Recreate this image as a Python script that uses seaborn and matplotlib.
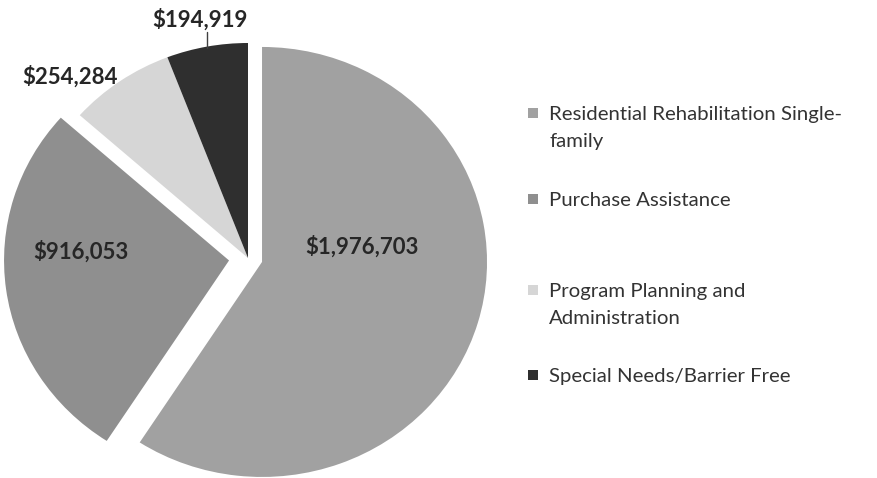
import matplotlib
matplotlib.use("Agg")
import matplotlib.pyplot as plt
import seaborn as sns
from matplotlib.patches import Rectangle

sns.set_theme(style="white")
plt.rcParams['font.family'] = ['Lato', 'DejaVu Sans']

# program categories and amounts
programs = ['Residential Rehabilitation Single-\nfamily',
            'Purchase Assistance',
            'Program Planning and\nAdministration',
            'Special Needs/Barrier Free']
amounts = [1976703, 916053, 254284, 194919]
amount_labels = ['$1,976,703', '$916,053', '$254,284', '$194,919']
colors = ['#a1a1a1', '#8f8f8f', '#d6d6d6', '#2f2f2f']
explode = [0.065, 0.085, 0.0, 0.0]

fig = plt.figure(figsize=(8.77, 4.78), dpi=100)
W, H = 877, 478
# pie centre in pixels, and radii (slightly stretched horizontally)
cx, cy, rx, ry = 248, 258, 225, 215
ax = fig.add_axes([(cx - 1.1 * rx) / W, (H - cy - 1.1 * ry) / H,
                   2.2 * rx / W, 2.2 * ry / H])

wedges, _ = ax.pie(amounts, colors=colors, startangle=90, counterclock=False,
                   explode=explode, radius=1.0,
                   wedgeprops=dict(linewidth=0))
ax.set_xlim(-1.1, 1.1)
ax.set_ylim(-1.1, 1.1)
ax.set_aspect('auto')
ax.axis('off')

label_pos = [(0.507, 0.051), (-0.742, 0.028), (-0.791, 0.842), (-0.213, 1.107)]
for (x, y), txt in zip(label_pos, amount_labels):
    ax.text(x, y, txt, ha='center', va='center', fontsize=16,
            fontweight='bold', color='#262626')
ax.plot([-0.182, -0.182], [1.05, 0.977], color='#404040', lw=1)

# legend drawn by hand to keep the uneven spacing
leg_y = [113, 199, 290, 375]
line_gap = 27
for y, lab, col in zip(leg_y, programs, colors):
    fig.add_artist(Rectangle((528 / W, (H - y - 5) / H), 10 / W, 10 / H,
                             facecolor=col, edgecolor='none',
                             transform=fig.transFigure))
    for i, line in enumerate(lab.split('\n')):
        fig.text(549 / W, (H - y - 7 - i * line_gap) / H, line,
                 ha='left', va='baseline', fontsize=14.7, color='#333333',
                 transform=fig.transFigure)
fig.savefig('out.png', dpi=100)
